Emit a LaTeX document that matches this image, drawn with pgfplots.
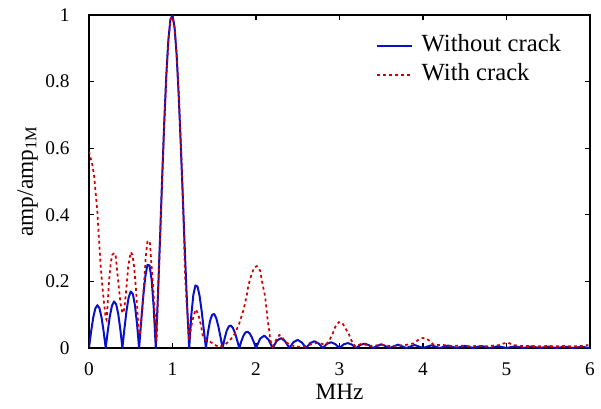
\documentclass[border=0pt]{standalone}
\usepackage{fontspec}
\setmainfont{Liberation Serif}
\usepackage{pgfplots}
\pgfplotsset{compat=1.18}
\definecolor{bluec}{RGB}{8,16,200}
\definecolor{redc}{RGB}{210,0,0}
\begin{document}
\begin{tikzpicture}
\useasboundingbox (-66.75pt,-45pt) rectangle (384pt,261pt);
\begin{axis}[
  at={(0pt,0pt)}, anchor=south west,
  scale only axis, width=375.75pt, height=249.75pt,
  xmin=0, xmax=6, ymin=0, ymax=1,
  xtick={0,1,2,3,4,5,6},
  ytick={0,0.2,0.4,0.6,0.8,1},
  tick align=inside,
  major tick length=4pt,
  tick style={black, line width=0.8pt},
  axis line style={line width=1pt},
  /pgf/number format/assume math mode=true,
  ticklabel style={font=\fontsize{14.5}{16}\selectfont},
  yticklabel style={xshift=-11pt},
  xticklabel style={yshift=-7.5pt},
  xlabel={MHz},
  ylabel={amp/amp\textsubscript{1M}},
  label style={font=\fontsize{17.5}{19}\selectfont},
  xlabel style={at={(axis description cs:0.5,-0.156)}, anchor=base},
  ylabel style={at={(axis description cs:-0.1118,0.5)}, anchor=base},
  legend cell align=left,
  legend style={draw=none, fill=none, at={(axis description cs:0.565,0.955)}, anchor=north west,
    font=\fontsize{18.5}{20}\selectfont, row sep=2.3pt, column sep=5pt,
    nodes={inner sep=1.5pt, text height=12.5pt, text depth=4pt}},
  legend image code/.code={\draw[#1] (0pt,0pt) -- (26pt,0pt);},
]
\addplot[bluec, line width=1.5pt, line join=round] coordinates {
(0,0) (0.025,0.0486) (0.05,0.0903) (0.075,0.1183) (0.1,0.1286) (0.125,0.1196) (0.15,0.0921) (0.175,0.0501)
(0.2,0) (0.225,0.0512) (0.25,0.0960) (0.275,0.1273) (0.3,0.1399) (0.325,0.1316) (0.35,0.1026) (0.375,0.0566)
(0.4,0) (0.425,0.0595) (0.45,0.1129) (0.475,0.1519) (0.5,0.1698) (0.525,0.1624) (0.55,0.1291) (0.575,0.0728)
(0.6,0) (0.625,0.0800) (0.65,0.1559) (0.675,0.2161) (0.7,0.2496) (0.725,0.2480) (0.75,0.2058) (0.775,0.1220)
(0.8,0) (0.825,0.1526) (0.85,0.3245) (0.875,0.5019) (0.9,0.6701) (0.925,0.8148) (0.95,0.9234) (0.975,0.9868)
(1.0,1.0) (1.025,0.9625) (1.05,0.8784) (1.075,0.7558) (1.1,0.6063) (1.125,0.4429) (1.15,0.2792) (1.175,0.1280)
(1.2,0) (1.225,0.0973) (1.25,0.1601) (1.275,0.1880) (1.3,0.1845) (1.325,0.1557) (1.35,0.1095) (1.375,0.0547)
(1.4,0) (1.425,0.0473) (1.45,0.0817) (1.475,0.1001) (1.5,0.1019) (1.525,0.0888) (1.55,0.0642) (1.575,0.0329)
(1.6,0) (1.625,0.0295) (1.65,0.0523) (1.675,0.0651) (1.7,0.0674) (1.725,0.0596) (1.75,0.0437) (1.775,0.0226)
(1.8,0) (1.825,0.0209) (1.85,0.0372) (1.875,0.0468) (1.9,0.0488) (1.925,0.0435) (1.95,0.0321) (1.975,0.0168)
(2.0,0) (2.05,0.0281) (2.1,0.0373) (2.15,0.0249)
(2.2,0) (2.25,0.0222) (2.3,0.0297) (2.35,0.0199)
(2.4,0) (2.45,0.0180) (2.5,0.0243) (2.55,0.0164)
(2.6,0) (2.65,0.0150) (2.7,0.0202) (2.75,0.0137)
(2.8,0) (2.85,0.0126) (2.9,0.0172) (2.95,0.0117)
(3.0,0) (3.05,0.0109) (3.1,0.0148) (3.15,0.0101)
(3.2,0) (3.25,0.0094) (3.3,0.0129) (3.35,0.0088)
(3.4,0) (3.5,0.0113) (3.6,0) (3.7,0.0100) (3.8,0) (3.9,0.0090) (4.0,0) (4.1,0.0081) (4.2,0) (4.3,0.0073)
(4.4,0) (4.5,0.0066) (4.6,0) (4.7,0.0060) (4.8,0) (4.9,0.0055) (5.0,0) (5.1,0.0050) (5.2,0) (5.3,0.0046)
(5.4,0) (5.5,0.0043) (5.6,0) (5.7,0.0040) (5.8,0) (5.9,0.0037) (6.0,0)
};
\addlegendentry{Without crack}
\addplot[redc, line width=1.3pt, dash pattern=on 2.2pt off 2.3pt] coordinates {
(0,0.59) (0.02,0.57) (0.04,0.55) (0.06,0.52) (0.08,0.465) (0.10,0.41) (0.12,0.325) (0.14,0.245)
(0.16,0.185) (0.18,0.135) (0.20,0.09) (0.21,0.085) (0.22,0.12) (0.24,0.20) (0.26,0.255) (0.28,0.28)
(0.30,0.285) (0.32,0.276) (0.34,0.225) (0.36,0.175) (0.38,0.13) (0.40,0.105) (0.42,0.115) (0.43,0.135)
(0.45,0.185) (0.47,0.245) (0.50,0.288) (0.52,0.28) (0.54,0.245) (0.56,0.185) (0.58,0.115) (0.59,0.065)
(0.61,0.04) (0.64,0.125) (0.66,0.195) (0.68,0.275) (0.70,0.32) (0.72,0.322) (0.73,0.314) (0.75,0.245)
(0.77,0.175) (0.79,0.095) (0.80,0.04) (0.81,0.022) (0.825,0.15) (0.85,0.32) (0.875,0.50) (0.9,0.67)
(0.925,0.81) (0.95,0.92) (0.975,0.985) (1.0,0.995) (1.025,0.96) (1.05,0.88) (1.075,0.76) (1.1,0.61)
(1.125,0.45) (1.15,0.22) (1.17,0.134) (1.19,0.064) (1.2,0.024) (1.22,0.06) (1.25,0.094) (1.28,0.116)
(1.31,0.10) (1.34,0.069) (1.36,0.039) (1.40,0.024) (1.45,0.019) (1.51,0.009) (1.56,0.003) (1.63,0.01)
(1.69,0.024) (1.75,0.044) (1.80,0.074) (1.85,0.114) (1.89,0.159) (1.91,0.189) (1.95,0.224) (1.98,0.242)
(2.01,0.246) (2.05,0.232) (2.08,0.19) (2.11,0.154) (2.12,0.13) (2.14,0.084) (2.16,0.049) (2.17,0.024)
(2.2,0.005) (2.24,0.024) (2.28,0.039) (2.31,0.034) (2.35,0.019) (2.41,0.009) (2.49,0.004) (2.57,0.004)
(2.63,0.009) (2.71,0.014) (2.77,0.014) (2.83,0.009) (2.87,0.019) (2.89,0.029) (2.92,0.044) (2.95,0.064)
(2.99,0.077) (3.03,0.077) (3.07,0.059) (3.11,0.044) (3.13,0.029) (3.16,0.014) (3.19,0.004) (3.27,0.014)
(3.35,0.006) (3.45,0.008) (3.53,0.009) (3.62,0.005) (3.7,0.007) (3.79,0.009) (3.89,0.014) (3.95,0.026)
(4.0,0.03) (4.05,0.027) (4.09,0.019) (4.13,0.009) (4.24,0.009) (4.35,0.006) (4.45,0.007) (4.55,0.005)
(4.65,0.006) (4.75,0.005) (4.83,0.007) (4.92,0.009) (4.97,0.014) (5.02,0.016) (5.08,0.009) (5.18,0.006)
(5.28,0.006) (5.4,0.005) (5.5,0.006) (5.6,0.005) (5.7,0.006) (5.8,0.005) (5.9,0.006) (5.98,0.009)
};
\addlegendentry{With crack}
\end{axis}
\end{tikzpicture}
\end{document}
